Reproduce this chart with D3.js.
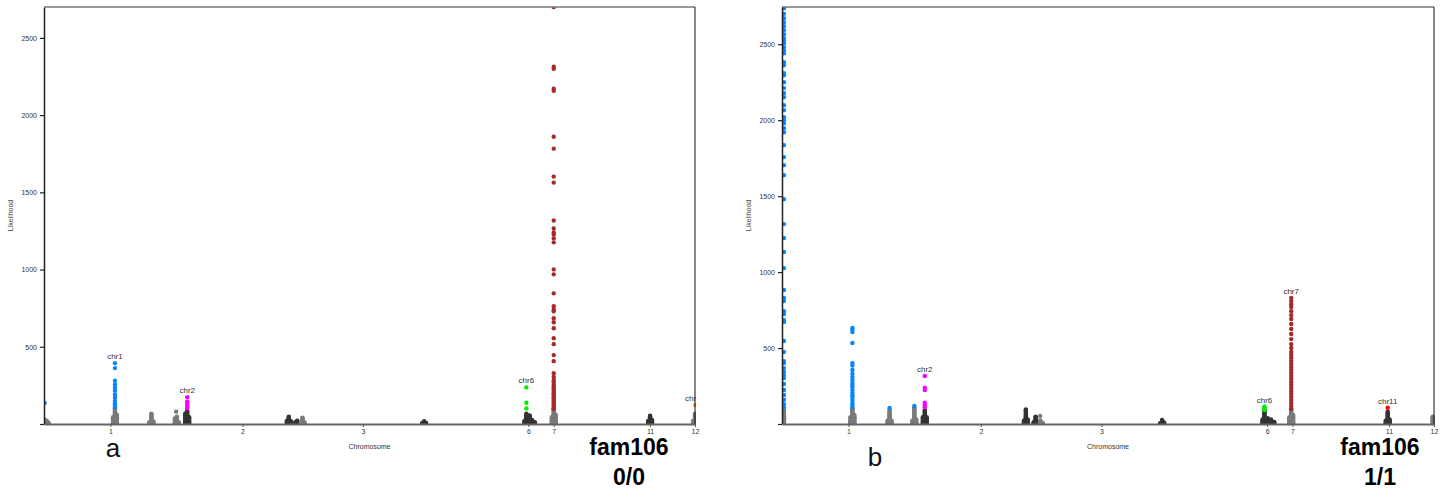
<!DOCTYPE html>
<html>
<head>
<meta charset="utf-8">
<script src="https://cdn.jsdelivr.net/npm/d3@7"></script>
<style>
  body { margin: 0; background: #fff; }
  svg text { font-family: "Liberation Sans", Arial, Helvetica, sans-serif; }
</style>
</head>
<body>
<svg id="chart" width="1448" height="495"></svg>
<script>
// x axis: genome position (0..1000), only some chromosome ticks are labelled
var tickPos = [102, 305, 490, 744, 783, 931, 1000];
var tickLabels = ["1", "2", "3", "6", "7", "11", "12"];
var yTickVals = [0, 500, 1000, 1500, 2000, 2500];

// columns of points: [group, position, [likelihood values]]
var aColumns = [
    ["gray", 0, [3, 9, 15, 21, 27, 33]], ["gray", 4, [3, 9, 15, 22]], ["gray", 7, [3, 8]],
    ["gray", 109, [2, 8, 14, 20, 26, 32, 38, 44, 50, 56, 62, 68, 74, 80, 86, 92, 98, 102]],
    ["gray", 106, [2, 8, 14, 20, 28, 36, 44]],
    ["gray", 112, [2, 8, 14, 20, 28, 36, 44, 52, 60]],
    ["gray", 165, [2, 8, 14, 20, 26, 32, 38, 44, 50, 56, 62, 66]], ["gray", 162, [2, 7, 12]], ["gray", 168, [2, 7, 12, 17]],
    ["gray", 204, [2, 8, 14, 20, 26, 32, 38, 44, 48]], ["gray", 201, [2, 8, 14, 20, 28, 36]], ["gray", 207, [2, 7, 12]],
    ["gray", 203, [80]],
    ["dark", 220, [2, 8, 14, 20, 26, 32, 38, 44, 50, 56, 62, 68, 74, 80, 86]],
    ["dark", 217, [2, 8, 14, 20, 28, 36, 44, 52, 60, 68]], ["dark", 223, [2, 8, 14, 20, 28, 36, 44]],
    ["dark", 376, [2, 8, 14, 20, 26, 32, 38, 44, 47]], ["dark", 373, [2, 8, 14, 20]], ["dark", 379, [2, 8, 14, 20]],
    ["dark", 389, [2, 8, 14, 20, 22]], ["dark", 386, [2, 7, 11]],
    ["gray", 397, [2, 8, 14, 20, 26, 32, 38, 41]], ["gray", 400, [2, 8, 12]],
    ["dark", 584, [2, 8, 14, 18]], ["dark", 581, [2, 6]], ["dark", 587, [2, 6]],
    ["dark", 741, [2, 8, 14, 20, 26, 32, 38, 44, 50, 56, 62, 66]], ["dark", 738, [2, 8, 14, 20]],
    ["dark", 746, [2, 8, 14, 20, 26, 32, 38, 44, 50, 56]], ["dark", 750, [2, 8, 14, 20, 26]], ["dark", 754, [2, 7, 11]],
    ["gray", 783, [2, 8, 14, 20, 26, 32, 38, 44, 50, 56, 62, 68, 74, 80, 86, 92, 98, 102]],
    ["gray", 780, [2, 8, 14, 20, 28, 36, 44]], ["gray", 786, [2, 8, 14, 20, 28, 36, 44, 52, 60]],
    ["dark", 931, [2, 8, 14, 20, 26, 32, 38, 44, 50, 53]], ["dark", 928, [2, 8, 14, 20]], ["dark", 934, [2, 8, 14, 20, 26]],
    ["gray", 1000, [2, 8, 14, 20, 26, 32, 38, 44, 50, 56, 62, 66]], ["gray", 997, [2, 8, 14, 20]],
    ["blue", 1, [136]],
    ["blue", 109, [394, 362, 280, 255, 235, 215, 190, 170, 150, 135, 120, 108]],
    ["magenta", 220, [174, 145, 136, 120, 108, 103]],
    ["green", 741, [237, 138, 101]],
    ["brown", 783, [2700, 2313, 2300, 2171, 2158, 1860, 1783, 1602, 1563, 1318, 1266, 1240, 1227, 1202, 1176,
                    1001, 969, 846, 762, 740, 730, 685, 659, 620, 556, 517, 446, 407, 329, 304, 284, 270, 252,
                    240, 233, 220, 213, 200, 194, 185, 174, 165, 155, 145, 136, 125, 116, 105, 97]],
    ["orange", 1000, [123]]
];
var aLabels = [["chr1", 109, 394], ["chr2", 220, 174], ["chr6", 741, 237], ["chr12", 1000, 123]];

var bColumns = [
    ["gray", 3, [2, 8, 14, 20, 26, 32, 38, 44, 50, 56, 62, 68, 74, 80, 86, 92, 98]],
    ["gray", 108, [2, 8, 14, 20, 26, 32, 38, 44, 50, 56, 62, 68, 74, 80, 86, 92, 98, 102]],
    ["gray", 105, [2, 8, 14, 20, 28, 36, 44]], ["gray", 111, [2, 8, 14, 20, 28, 36, 44, 52, 60]],
    ["gray", 165, [2, 8, 14, 20, 26, 32, 38, 44, 50, 56, 62, 68, 74, 80, 86, 93]],
    ["gray", 162, [2, 8, 14, 22]], ["gray", 168, [2, 8, 14, 22]],
    ["gray", 203, [2, 8, 14, 20, 26, 32, 38, 44, 50, 56, 62, 68, 74, 80, 86, 92, 98, 104, 108]],
    ["gray", 200, [2, 8, 14, 22]], ["gray", 206, [2, 8, 14, 22, 30]],
    ["dark", 219, [2, 8, 14, 20, 26, 32, 38, 44, 50, 56, 62, 68, 74, 80, 86, 92]],
    ["dark", 216, [2, 8, 14, 20, 28, 36, 44]], ["dark", 222, [2, 8, 14, 20, 28, 36, 44]],
    ["dark", 374, [2, 8, 14, 20, 26, 32, 38, 44, 50, 56, 62, 68, 74, 80, 86, 92, 96]],
    ["dark", 371, [2, 8, 14, 22]], ["dark", 377, [2, 8, 14, 22, 30]],
    ["dark", 389, [2, 8, 14, 20, 26, 32, 38, 44, 48]], ["dark", 386, [2, 7, 12]],
    ["gray", 396, [2, 8, 14, 20, 24, 53]], ["gray", 400, [2, 7]],
    ["dark", 583, [2, 8, 14, 20, 26]], ["dark", 580, [2, 6]], ["dark", 586, [2, 6, 10]],
    ["dark", 740, [2, 8, 14, 20, 26, 32, 38, 44, 50, 56, 62, 68, 74, 80, 86, 90]],
    ["dark", 737, [2, 8, 14, 22, 30]], ["dark", 745, [2, 8, 14, 20, 26, 32, 38]],
    ["dark", 750, [2, 8, 14, 20, 26, 30]], ["dark", 755, [2, 8, 14]],
    ["gray", 781, [2, 8, 14, 20, 26, 32, 38, 44, 50, 56, 62, 68, 74, 80, 86, 92, 98]],
    ["gray", 778, [2, 8, 14, 20, 28, 36, 44]], ["gray", 784, [2, 8, 14, 20, 28, 36, 44, 52, 60]],
    ["dark", 929, [2, 8, 14, 20, 26, 32, 38, 44, 50, 56, 62, 68, 74, 81]],
    ["dark", 926, [2, 8, 14, 22]], ["dark", 932, [2, 8, 14, 22, 30]],
    ["gray", 998, [2, 8, 14, 20, 26, 32, 38, 44, 48]], ["gray", 1002, [2, 8, 14]],
    ["blue", 3, [2745, 2737, 2700, 2671, 2645, 2618, 2592, 2566, 2539, 2526, 2507, 2480, 2461, 2441, 2382,
                 2362, 2309, 2296, 2250, 2211, 2178, 2151, 2099, 2066, 2020, 2000, 1980, 1947, 1921, 1836,
                 1757, 1704, 1638, 1480, 1316, 1224, 1132, 1026, 882, 829, 809, 743, 724, 684, 671, 546,
                 474, 414, 401, 368, 342, 322, 303, 263, 224, 191, 160, 130, 110]],
    ["blue", 108, [632, 620, 605, 533, 401, 385, 355, 330, 309, 289, 270, 256, 243, 224, 204, 190, 178, 158,
                   138, 125, 112]],
    ["blue", 165, [105]],
    ["blue", 203, [118]],
    ["magenta", 219, [316, 239, 224, 140, 125, 110]],
    ["green", 740, [115, 108, 100, 92]],
    ["brown", 781, [829, 809, 789, 770, 743, 717, 691, 658, 625, 592, 559, 526, 500, 474, 454, 434, 414, 395,
                    375, 355, 336, 316, 296, 276, 257, 237, 217, 197, 178, 158, 138, 118, 99]],
    ["red", 929, [107]]
];
var bLabels = [["chr2", 219, 316], ["chr6", 740, 115], ["chr7", 781, 829], ["chr11", 929, 107]];

var groupColors = {
    gray: "#7a7a7a", dark: "#333333", blue: "#0a84ff", magenta: "#ff00ff",
    green: "#00ee00", brown: "#a52a2a", orange: "#ffa500", red: "#ff0000"
};
var colored = ["blue", "magenta", "green", "brown", "orange", "red"];

var svg = d3.select("#chart");
var plotTop = 7, plotBottom = 424;

function drawPanel(id, left, right, columns, labels, letter) {
    // flatten the columns into points, gray/dark first so colours sit on top
    var points = [];
    columns.forEach(function(c) {
        c[2].forEach(function(v) { points.push({g: c[0], pos: c[1], v: v}); });
    });
    points.sort(function(a, b) {
        return (colored.indexOf(a.g) >= 0) - (colored.indexOf(b.g) >= 0);
    });

    var yMax = d3.max(points, function(d) { return d.v; });
    var x = d3.scaleLinear().domain([0, 1000]).range([left, right]);
    var y = d3.scaleLinear().domain([0, yMax]).range([plotBottom, plotTop]);

    var g = svg.append("g");

    g.append("clipPath").attr("id", "clip" + id)
      .append("rect")
        .attr("x", left).attr("y", plotTop)
        .attr("width", right - left + 1).attr("height", plotBottom - plotTop);

    var plot = g.append("g").attr("clip-path", "url(#clip" + id + ")");
    plot.selectAll("circle")
        .data(points)
      .enter().append("circle")
        .attr("cx", function(d) { return x(d.pos); })
        .attr("cy", function(d) { return y(d.v); })
        .attr("r", 2.2)
        .attr("fill", function(d) { return groupColors[d.g]; });

    // peak labels (the one at the right edge is cut by the frame, as in the original)
    plot.selectAll("text.peak")
        .data(labels)
      .enter().append("text")
        .attr("class", "peak")
        .attr("x", function(d) { return x(d[1]); })
        .attr("y", function(d) { return y(d[2]) - 4; })
        .attr("text-anchor", "middle")
        .attr("font-size", "8px")
        .attr("fill", "#333")
        .text(function(d) { return d[0]; });

    // frame: top and right
    g.append("line").attr("x1", left).attr("x2", right).attr("y1", plotTop).attr("y2", plotTop)
        .attr("stroke", "#777").attr("stroke-width", 1.5);
    g.append("line").attr("x1", right).attr("x2", right).attr("y1", plotTop).attr("y2", plotBottom)
        .attr("stroke", "#111").attr("stroke-width", 1);

    // y axis
    var yAxis = g.append("g")
        .attr("transform", "translate(" + left + ",0)")
        .call(d3.axisLeft(y).tickValues(yTickVals).tickSize(4).tickSizeOuter(0).tickPadding(3)
              .tickFormat(function(d) { return d === 0 ? "" : d; }));
    yAxis.select(".domain").attr("stroke", "#222").attr("stroke-width", 1.5);
    yAxis.selectAll(".tick line").attr("stroke", "#222").attr("stroke-width", 1.2);
    yAxis.selectAll("text").attr("font-size", "7px").attr("fill", "#333")
        .style("font-family", "'Liberation Sans', Arial, sans-serif");

    // x axis
    var xAxis = g.append("g")
        .attr("transform", "translate(0," + plotBottom + ")")
        .call(d3.axisBottom(x).tickValues(tickPos).tickSize(3).tickSizeOuter(0).tickPadding(2)
              .tickFormat(function(d, i) { return tickLabels[i]; }));
    xAxis.select(".domain").attr("stroke", "#666").attr("stroke-width", 2);
    xAxis.selectAll(".tick line").attr("stroke", "#555");
    xAxis.selectAll("text").attr("font-size", "7px").attr("fill", "#333")
        .style("font-family", "'Liberation Sans', Arial, sans-serif");

    // axis titles
    g.append("text")
        .attr("transform", "translate(" + (left - 31) + "," + ((plotTop + plotBottom) / 2) + ") rotate(-90)")
        .attr("text-anchor", "middle")
        .attr("font-size", "7px")
        .attr("fill", "#444")
        .text("Likelihood");
    g.append("text")
        .attr("x", (left + right) / 2)
        .attr("y", 449)
        .attr("text-anchor", "middle")
        .attr("font-size", "7px")
        .attr("fill", "#333")
        .text("Chromosome");

    // panel letter and family caption
    g.append("text")
        .attr("x", letter.x).attr("y", letter.y)
        .attr("text-anchor", "middle")
        .attr("font-size", "26px")
        .attr("fill", "#111")
        .text(letter.text);
    g.append("text")
        .attr("x", letter.capX).attr("y", 455)
        .attr("text-anchor", "middle")
        .attr("font-size", "23px")
        .attr("font-weight", "bold")
        .attr("fill", "#000")
        .text("fam106");
    g.append("text")
        .attr("x", letter.capX).attr("y", 485)
        .attr("text-anchor", "middle")
        .attr("font-size", "23px")
        .attr("font-weight", "bold")
        .attr("fill", "#000")
        .text(letter.geno);
}

drawPanel("a", 44, 695, aColumns, aLabels, {text: "a", x: 113, y: 457, capX: 629, geno: "0/0"});
drawPanel("b", 782, 1434, bColumns, bLabels, {text: "b", x: 875, y: 466, capX: 1380, geno: "1/1"});
</script>
</body>
</html>
